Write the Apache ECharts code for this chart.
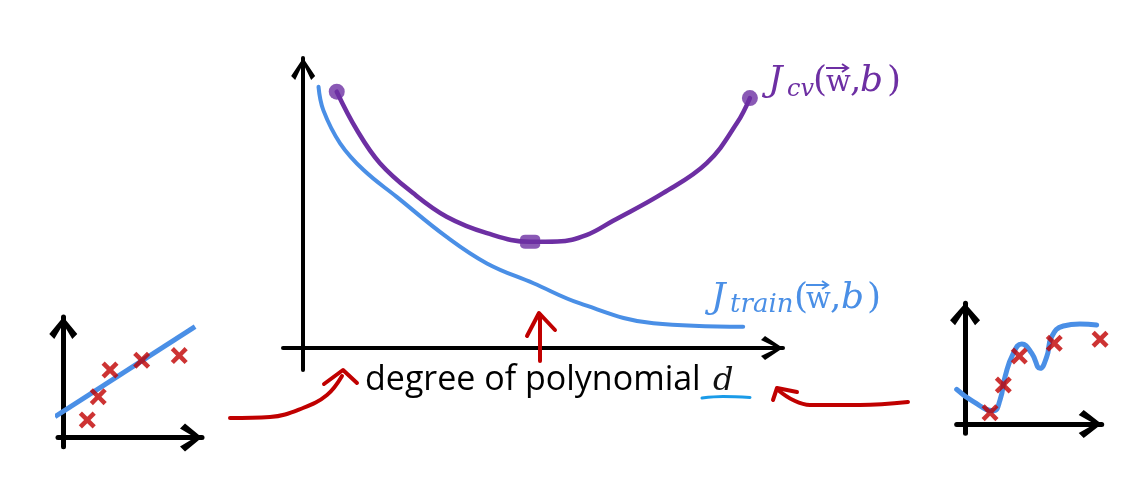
<!DOCTYPE html>
<html><head><meta charset="utf-8">
<script src="https://cdn.jsdelivr.net/npm/echarts@6/dist/echarts.min.js"></script>
<style>html,body{margin:0;padding:0;background:#fff}#c{width:1146px;height:482px}</style>
</head><body><div id="c"></div>
<script>
// ---- main chart: cost vs degree of polynomial ----
const jcv    = [[0.70,8.90],[1.12,7.57],[1.60,6.42],[2.29,5.38],[2.99,4.56],[3.83,3.99],[4.73,3.69],[5.30,3.70],[5.90,3.92],[6.46,4.42],[7.50,5.38],[8.41,6.42],[9.04,7.81],[9.31,8.68]];
const cvMarkIdx = [0, 6, 13];
const jtrain = [[0.32,9.07],[0.42,8.26],[0.77,7.11],[1.26,6.18],[1.95,5.25],[2.99,3.86],[3.83,2.94],[4.80,2.25],[5.77,1.55],[7.30,0.86],[9.17,0.74]];
// ---- left mini chart: underfit (linear) ----
const leftPts  = [[1.73,1.45],[2.52,3.39],[3.37,5.60],[5.65,6.41],[8.36,6.80]];
const leftFit  = [[-0.60,1.73],[9.50,9.20]];
// ---- right mini chart: overfit (wiggly) ----
const rightPts = [[1.83,0.94],[2.80,3.23],[3.97,5.63],[6.53,6.69],[9.88,7.02]];
const rightFit = [[-0.61,2.87],[0.61,1.85],[2.07,1.10],[2.56,1.99],[2.93,3.92],[3.53,5.86],[4.15,6.63],[4.88,5.86],[5.49,4.61],[5.98,5.58],[6.34,7.23],[7.19,8.12],[8.41,8.28],[9.63,8.20]];
// ---- annotation strokes (page coordinates, overlay axis) ----
const arrowLeftBody  = [[230,418],[270,417],[303,408],[327,395],[342,376]];
const arrowLeftHead  = [[324,384],[343,370],[357,383]];
const arrowMidBody   = [[540,361],[540,315]];
const arrowMidHead   = [[527,336],[539,313],[555,330]];
const arrowRightBody = [[908,402],[860,405],[810,405],[793,400],[778,390]];
const arrowRightHead = [[773,400],[777,388],[797,392]];
const dUnderline     = [[702,398],[723,396.5],[750,397.5]];
// ---- texts ----
const xLabel = 'degree of polynomial';
const xVar = 'd';

const PURPLE = '#6d2fa3', BLUE = '#4a8fe6', RED = '#c00000', BLACK = '#000';

function chevron(w, d, t) {
  const c = w / 2, T = d + t;
  return `path://M${c},0L${c+0.01},0L${c},0.01Z M${c},${T}L${w},${T+d}L${w-t},${T+d+t}L${c},${T+1.4*t}L${t},${T+d+t}L0,${T+d}Z`;
}
function axis(min, max, w, d, t, lw) {
  return {
    type: 'value', min, max,
    axisLabel: {show: false}, axisTick: {show: false}, splitLine: {show: false},
    axisLine: {show: true, onZero: true, lineStyle: {color: BLACK, width: lw},
      symbol: ['none', chevron(w, d, t)], symbolSize: [w, 2 * (d + t)]}
  };
}
const XMARK = 'path://M0,3.75L3.75,0L10,6.25L16.25,0L20,3.75L13.75,10L20,16.25L16.25,20L10,13.75L3.75,20L0,16.25L6.25,10Z';

const chart = echarts.init(document.getElementById('c'), null, {renderer: 'canvas'});
const serif = '"DejaVu Serif", serif';
function piece(text, x, baseline, size, color, italic) {
  return {type: 'text', x, y: baseline - 0.32 * size, z: 50,
    style: {text, fill: color, fontFamily: serif, fontSize: size, fontStyle: italic ? 'italic' : 'normal',
      verticalAlign: 'middle', align: 'left'}};
}
function vecArrow(x1, x2, y, color) {
  return [
    {type: 'line', z: 50, shape: {x1, y1: y, x2, y2: y}, style: {stroke: color, lineWidth: 2}},
    {type: 'polyline', z: 50, shape: {points: [[x2 - 6, y - 4], [x2, y], [x2 - 6, y + 4]]},
      style: {stroke: color, lineWidth: 2, fill: null}}
  ];
}
function costLabel(sub, color, o) {
  return [
    piece('J', o.j, o.base, 36, color, true),
    piece(sub, o.s, o.base + 4, o.subSize, color, true),
    piece('(', o.p, o.base, 36, color, false),
    piece('w', o.w, o.base, 29, color, false),
    ...vecArrow(o.w, o.w + 22, o.base - 25, color),
    piece(',', o.c, o.base, 36, color, false),
    piece('b', o.b, o.base, 36, color, true),
    piece(')', o.q, o.base, 36, color, false)
  ];
}

chart.setOption({
  backgroundColor: '#fff',
  animation: false,
  grid: [
    {left: 283, top: 58, width: 500, height: 312},
    {left: 58, top: 317, width: 144, height: 129.7},
    {left: 956.7, top: 303.3, width: 145, height: 130},
    {left: 0, top: 0, width: 1146, height: 482}
  ],
  xAxis: [
    axis(-0.42, 10, 24, 18, 4, 4),
    Object.assign(axis(-0.38, 10, 28, 17, 5, 5), {gridIndex: 1}),
    Object.assign(axis(-0.61, 10, 28, 18, 5, 5), {gridIndex: 2}),
    {type: 'value', gridIndex: 3, min: 0, max: 1146, show: false}
  ],
  yAxis: [
    axis(-0.76, 10.07, 24, 18, 4, 4),
    Object.assign(axis(-0.76, 10, 28, 17, 5, 5), {gridIndex: 1}),
    Object.assign(axis(-0.77, 10, 30, 17, 5, 5), {gridIndex: 2}),
    {type: 'value', gridIndex: 3, min: 0, max: 482, inverse: true, show: false}
  ],
  series: [
    {type: 'line', name: 'J_train', data: jtrain, smooth: 0.4, symbol: 'none', clip: false,
      lineStyle: {color: BLUE, width: 4, cap: 'round'}, z: 3},
    {type: 'line', name: 'J_cv', data: jcv, smooth: 0.4, symbol: 'none', clip: false,
      lineStyle: {color: PURPLE, width: 4.5, cap: 'round'}, z: 4},
    {type: 'scatter', clip: false, z: 5, itemStyle: {color: PURPLE},
      data: cvMarkIdx.map((i, k) => ({value: jcv[i],
        symbol: k === 1 ? 'roundRect' : 'circle', symbolSize: k === 1 ? [20, 14] : 16}))},
    {type: 'line', xAxisIndex: 1, yAxisIndex: 1, data: leftFit, symbol: 'none', clip: false,
      lineStyle: {color: BLUE, width: 5}, z: 3},
    {type: 'scatter', xAxisIndex: 1, yAxisIndex: 1, data: leftPts, clip: false, z: 4,
      symbol: XMARK, symbolSize: 17, itemStyle: {color: RED}},
    {type: 'line', xAxisIndex: 2, yAxisIndex: 2, data: rightFit, smooth: 0.5, symbol: 'none', clip: false,
      lineStyle: {color: BLUE, width: 5, cap: 'round'}, z: 3},
    {type: 'scatter', xAxisIndex: 2, yAxisIndex: 2, data: rightPts, clip: false, z: 4,
      symbol: XMARK, symbolSize: 17, itemStyle: {color: RED}},
    ...[arrowLeftBody, arrowMidBody, arrowRightBody].map(d => ({
      type: 'line', xAxisIndex: 3, yAxisIndex: 3, data: d, smooth: 0.4, symbol: 'none', clip: false,
      lineStyle: {color: RED, width: 4, cap: 'round', join: 'round'}, z: 6})),
    ...[arrowLeftHead, arrowMidHead, arrowRightHead].map(d => ({
      type: 'line', xAxisIndex: 3, yAxisIndex: 3, data: d, symbol: 'none', clip: false,
      lineStyle: {color: RED, width: 4, cap: 'round', join: 'round'}, z: 6})),
    {type: 'line', xAxisIndex: 3, yAxisIndex: 3, data: dUnderline, smooth: 0.4, symbol: 'none', clip: false,
      lineStyle: {color: '#1a9be8', width: 3, cap: 'round'}, z: 6}
  ],
  graphic: [
    {type: 'text', x: 365, y: 380, z: 50,
      style: {text: xLabel, fill: BLACK, fontFamily: '"Open Sans", sans-serif', fontSize: 34, verticalAlign: 'middle'}},
    piece(xVar, 713, 392, 32, '#111', true),
    ...costLabel('cv', PURPLE, {j: 768, s: 787, subSize: 24, p: 813, w: 826, c: 850, b: 860, q: 887, base: 93}),
    ...costLabel('train', BLUE, {j: 711, s: 730, subSize: 26, p: 794, w: 806, c: 830, b: 841, q: 867, base: 310})
  ]
});
</script></body></html>
